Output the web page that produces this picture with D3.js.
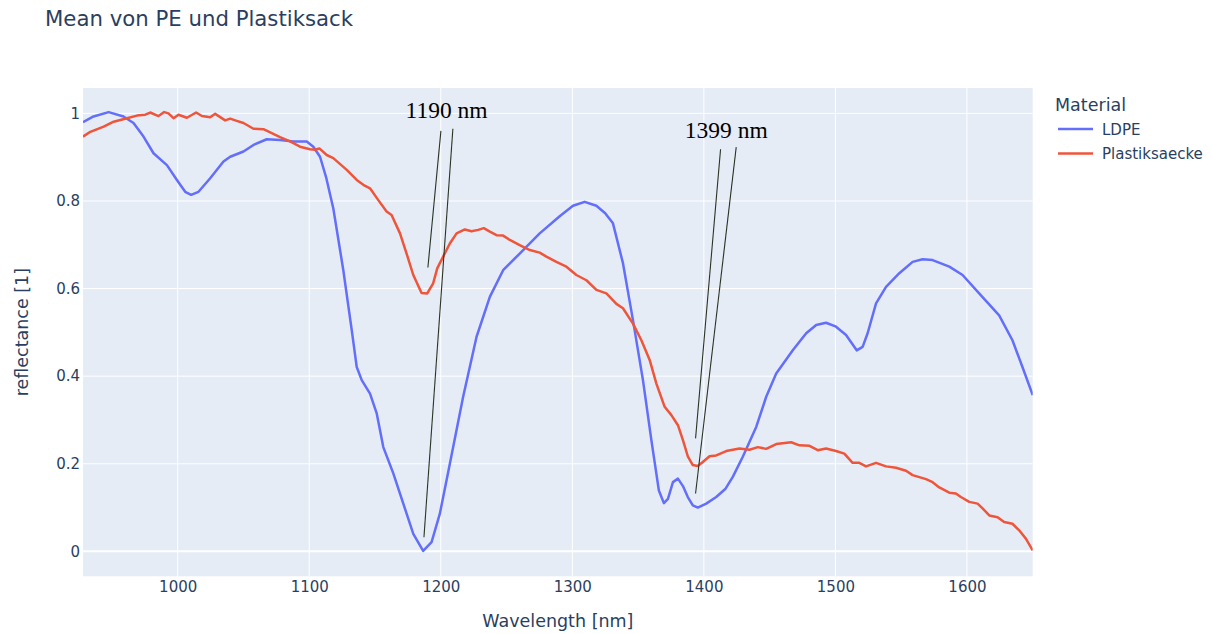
<!DOCTYPE html>
<html><head><meta charset="utf-8">
<script src="https://cdn.jsdelivr.net/npm/d3@7"></script>
<style>html,body{margin:0;padding:0;background:#fff;}svg{display:block;}</style>
</head><body>
<svg id="chart" width="1212" height="634"></svg>
<script>
// ---- data ----
const chartTitle = "Mean von PE und Plastiksack";
const xAxisTitle = "Wavelength [nm]";
const yAxisTitle = "reflectance [1]";
const legendTitle = "Material";
const seriesNames = ["LDPE", "Plastiksaecke"];
const xTicks = [1000, 1100, 1200, 1300, 1400, 1500, 1600];
const yTicks = [0, 0.2, 0.4, 0.6, 0.8, 1];
const yTickLabels = ["0", "0.2", "0.4", "0.6", "0.8", "1"];

const ldpeWavelength = [928,936,947.5,958.8,966.4,974,981.6,991.8,999.4,1005.7,1010.2,1015.8,1024.7,1034.8,1039.9,1050,1057.6,1067.7,1077.8,1087.9,1098.1,1103.1,1108.2,1113,1118.3,1125.9,1132.3,1136.1,1139.9,1146.2,1151.3,1156.3,1163.9,1171.5,1179.1,1186.6,1193,1199.3,1206.9,1217,1227.2,1237.3,1247.4,1260,1275.2,1290.4,1300.5,1309.4,1318.3,1325,1330.9,1338.5,1346.1,1353.7,1360.1,1365.8,1369.6,1372.7,1376.5,1380.3,1384.1,1387.8,1391.6,1395.4,1401.8,1409.4,1416.5,1422,1429.6,1439.8,1447.4,1455,1467.6,1477.8,1485.4,1492.9,1500.5,1508.1,1516.2,1520.7,1524.5,1530.9,1538.5,1548.6,1558.7,1566.3,1573.9,1586.6,1596.7,1609.3,1624.5,1634.6,1642.2,1650];
const ldpeReflectance = [0.980,0.993,1.003,0.993,0.978,0.947,0.909,0.882,0.848,0.821,0.814,0.821,0.852,0.890,0.901,0.913,0.928,0.941,0.939,0.936,0.936,0.924,0.901,0.852,0.783,0.642,0.505,0.421,0.391,0.360,0.315,0.238,0.178,0.109,0.040,0.001,0.021,0.086,0.200,0.353,0.490,0.581,0.642,0.680,0.726,0.765,0.789,0.798,0.789,0.772,0.749,0.658,0.528,0.391,0.254,0.139,0.110,0.120,0.158,0.166,0.149,0.124,0.105,0.100,0.109,0.124,0.143,0.170,0.216,0.284,0.353,0.406,0.459,0.498,0.517,0.522,0.513,0.494,0.459,0.467,0.498,0.566,0.604,0.635,0.661,0.667,0.665,0.650,0.631,0.589,0.539,0.482,0.421,0.357];

const plastikWavelength = [928,933.6,943.7,951.3,961.4,969,975.3,979.1,985.4,989.7,993,996.8,1000.6,1007,1014,1018.4,1024.7,1028.5,1036.1,1039.9,1044.9,1050,1057.6,1065.2,1071.5,1077.8,1085.4,1093,1100.6,1104.4,1107.7,1113.3,1118.3,1128.5,1136.1,1141.1,1146.2,1152.5,1158.8,1162.6,1169,1174,1179.1,1185.4,1189.7,1194.2,1197.3,1201.8,1206.9,1212,1218.3,1223.4,1228.4,1232.7,1237.3,1242.4,1247.4,1252.5,1260,1267.7,1275.2,1280.3,1287.9,1295.5,1303.1,1310.7,1318.3,1325.9,1333.5,1338.5,1346.1,1352.5,1358.8,1363.9,1370.2,1375.3,1380.3,1384.1,1387.9,1391.6,1395.4,1399.2,1404.3,1409.4,1417,1427.1,1434.7,1441,1447.4,1455,1466.4,1472.7,1480.3,1486.6,1492.9,1500.5,1506.8,1513.1,1518.2,1523.3,1530.9,1538.5,1546.1,1553.7,1558.7,1568.9,1573.9,1579,1586.6,1591.6,1595.4,1601.8,1608.1,1611.9,1617,1623.3,1628.3,1634.6,1639.7,1644.8,1650];
const plastikReflectance = [0.947,0.958,0.970,0.981,0.989,0.995,0.997,1.002,0.994,1.003,1.000,0.989,0.997,0.990,1.002,0.994,0.991,0.999,0.984,0.988,0.983,0.978,0.965,0.964,0.955,0.946,0.936,0.924,0.918,0.917,0.920,0.905,0.898,0.871,0.848,0.837,0.829,0.802,0.776,0.768,0.726,0.680,0.631,0.590,0.589,0.612,0.646,0.673,0.703,0.726,0.735,0.731,0.734,0.738,0.730,0.722,0.721,0.711,0.699,0.688,0.682,0.673,0.661,0.650,0.631,0.619,0.597,0.589,0.565,0.555,0.520,0.482,0.437,0.383,0.330,0.311,0.288,0.254,0.216,0.197,0.195,0.204,0.217,0.219,0.229,0.235,0.232,0.238,0.234,0.245,0.249,0.242,0.241,0.231,0.235,0.229,0.223,0.202,0.202,0.194,0.202,0.194,0.191,0.184,0.174,0.165,0.158,0.146,0.134,0.132,0.124,0.113,0.109,0.098,0.082,0.078,0.067,0.063,0.048,0.029,0.002];

// annotations (data coordinates): label position and arrow tails/tips
const annotationLabels = ["1190 nm", "1399 nm"];
const annotationTextX = [1204.4, 1417.0];
const annotationTextY = [0.990, 0.943];
const annotationArrows = [
  [[1200.1, 0.960, 1190.2, 0.648], [1209.2, 0.965, 1187.2, 0.032]],
  [[1412.7, 0.918, 1393.7, 0.258], [1424.6, 0.923, 1393.7, 0.132]]
];

// ---- drawing ----
const colors = ["#636efa", "#EF553B"];
const font = "'DejaVu Sans', Verdana, sans-serif";
const textColor = "#2a3f5f";
const svg = d3.select("#chart");
const L = 83, R = 1032.7, T = 88, B = 576.3;
const x = d3.scaleLinear().domain([928, 1650]).range([L, R]);
const y = d3.scaleLinear().domain([-0.057, 1.058]).range([B, T]);

svg.append("rect").attr("x", L).attr("y", T).attr("width", R - L).attr("height", B - T).attr("fill", "#E5ECF6");

svg.append("defs").append("clipPath").attr("id", "clip")
  .append("rect").attr("x", L).attr("y", T).attr("width", R - L).attr("height", B - T);

const grid = svg.append("g");
grid.selectAll(".vg").data(xTicks).enter().append("line")
  .attr("x1", d => x(d)).attr("x2", d => x(d)).attr("y1", T).attr("y2", B)
  .attr("stroke", "#fff").attr("stroke-width", 1);
grid.selectAll(".hg").data(yTicks).enter().append("line")
  .attr("x1", L).attr("x2", R).attr("y1", d => y(d)).attr("y2", d => y(d))
  .attr("stroke", "#fff").attr("stroke-width", d => d === 0 ? 2 : 1);

// axes via d3 axis generators (styled like plotly)
const xAxis = svg.append("g").attr("transform", `translate(0,${B})`)
  .call(d3.axisBottom(x).tickValues(xTicks).tickSize(0).tickPadding(5.5).tickFormat(d3.format("d")));
const yAxis = svg.append("g").attr("transform", `translate(${L},0)`)
  .call(d3.axisLeft(y).tickValues(yTicks).tickSize(0).tickPadding(3).tickFormat((d, i) => yTickLabels[i]));
[xAxis, yAxis].forEach(a => {
  a.select(".domain").remove();
  a.selectAll("text").attr("font-family", font).attr("font-size", 15).attr("fill", textColor);
});

const lineGen = d3.line().x(d => x(d[0])).y(d => y(d[1]));
const seriesData = [
  d3.zip(ldpeWavelength, ldpeReflectance),
  d3.zip(plastikWavelength, plastikReflectance)
];
const plotG = svg.append("g").attr("clip-path", "url(#clip)");
seriesData.forEach((s, i) => {
  plotG.append("path").datum(s).attr("d", lineGen)
    .attr("fill", "none").attr("stroke", colors[i]).attr("stroke-width", 2.5)
    .attr("stroke-linejoin", "round");
});

// annotations
annotationArrows.forEach((arrows, i) => {
  arrows.forEach(a => {
    svg.append("line")
      .attr("x1", x(a[0])).attr("y1", y(a[1])).attr("x2", x(a[2])).attr("y2", y(a[3]))
      .attr("stroke", "#2b3325").attr("stroke-width", 1.1);
  });
  svg.append("text").attr("x", x(annotationTextX[i])).attr("y", y(annotationTextY[i]))
    .attr("text-anchor", "middle").attr("font-family", "'Liberation Serif', 'Times New Roman', serif")
    .attr("font-size", 23.5).attr("fill", "#000").text(annotationLabels[i]);
});

// titles
svg.append("text").attr("x", 45).attr("y", 26).attr("font-family", font).attr("font-size", 21.25)
  .attr("fill", textColor).text(chartTitle);
svg.append("text").attr("x", (L + R) / 2).attr("y", 627).attr("text-anchor", "middle")
  .attr("font-family", font).attr("font-size", 17.5).attr("fill", textColor).text(xAxisTitle);
svg.append("text").attr("transform", `translate(28,${(T + B) / 2}) rotate(-90)`).attr("text-anchor", "middle")
  .attr("font-family", font).attr("font-size", 17.5).attr("fill", textColor).text(yAxisTitle);

// legend
const lg = svg.append("g");
lg.append("text").attr("x", 1055).attr("y", 111).attr("font-family", font).attr("font-size", 17.5)
  .attr("fill", textColor).text(legendTitle);
seriesNames.forEach((n, i) => {
  const yy = 129 + i * 24.5;
  lg.append("line").attr("x1", 1058).attr("x2", 1093).attr("y1", yy).attr("y2", yy)
    .attr("stroke", colors[i]).attr("stroke-width", 2.5);
  lg.append("text").attr("x", 1102).attr("y", yy + 5.5).attr("font-family", font).attr("font-size", 15)
    .attr("fill", textColor).text(n);
});
</script>
</body></html>
